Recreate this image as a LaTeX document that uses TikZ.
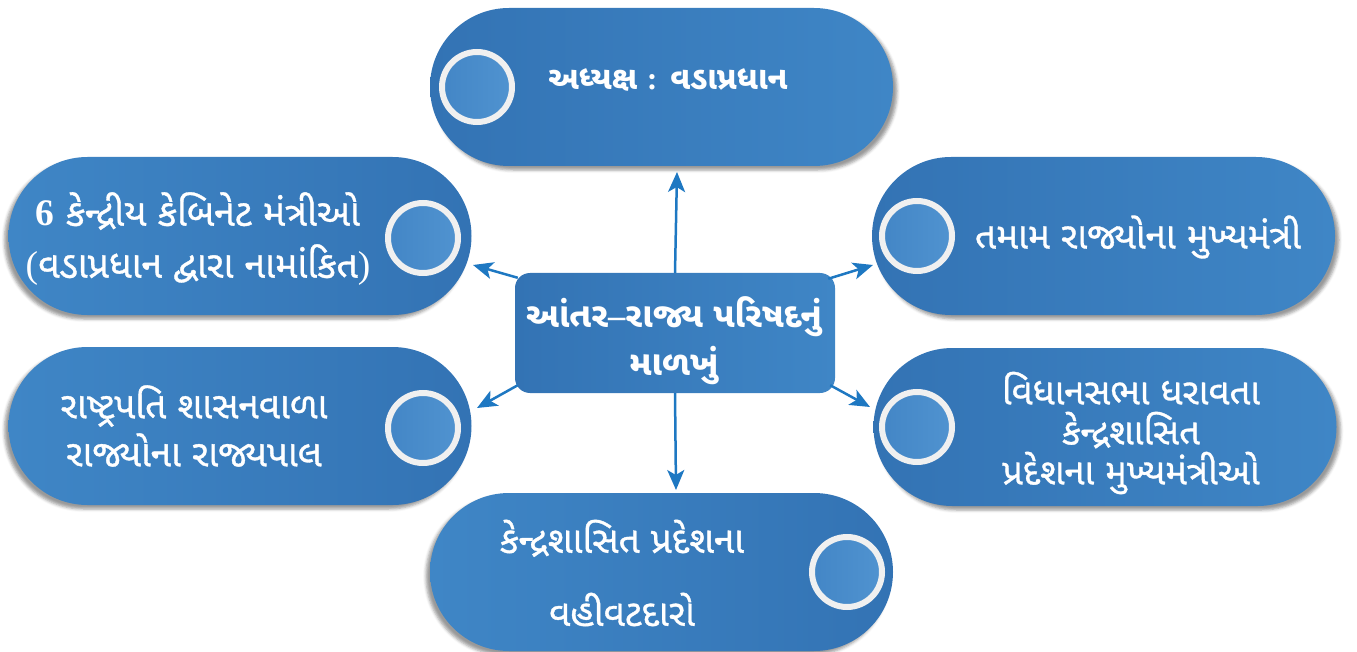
\documentclass[tikz,border=0pt]{standalone}
\usepackage{fontspec}
\newfontfamily\gujfont[Script=Gujarati,FakeBold=0.9]{Noto Sans Gujarati UI}
\newfontfamily\gujbold[Script=Gujarati]{Noto Sans Gujarati UI}
\newfontfamily\latfont{Liberation Serif}
\usetikzlibrary{arrows.meta}
\usetikzlibrary{shapes.misc}
\usetikzlibrary{shadows.blur}
\definecolor{pilldark}{HTML}{3373B4}
\definecolor{pilllight}{HTML}{3F86C6}
\definecolor{dotdark}{HTML}{4386C6}
\definecolor{dotlight}{HTML}{5093D0}
\definecolor{ringgray}{HTML}{F0F0F0}
\definecolor{linkblue}{HTML}{1E78C2}

\begin{document}
\begin{tikzpicture}[x=1pt,y=-1pt,
        pill/.style={rounded rectangle,minimum width=463pt,minimum height=158pt,inner sep=0pt},
        pilldotleft/.style={pill,left color=pilldark,right color=pilllight,blur shadow={shadow xshift=4pt,shadow yshift=-4pt,shadow blur radius=3pt}},
        pilldotright/.style={pill,left color=pilllight,right color=pilldark,blur shadow={shadow xshift=-4pt,shadow yshift=-4pt,shadow blur radius=3pt}},
        dot/.style={circle,minimum size=70pt,inner sep=0pt,draw=ringgray,line width=6pt,left color=dotdark,right color=dotlight},
        lbl/.style={text=white,align=center,inner sep=0pt,font=\gujfont\fontsize{37}{48}\selectfont},
        link/.style={draw=linkblue,line width=2.5pt,-{Stealth[length=20pt,width=17pt,inset=5pt]}}]
        \useasboundingbox (0,0) rectangle (1357,652);
        \node[pilldotleft] (chair) at (661.5,87) {};
        \node[pilldotright] (cabinet) at (240,236) {};
        \node[pilldotleft] (cms) at (1103.5,236) {};
        \node[pilldotright] (governors) at (240,426) {};
        \node[pilldotleft] (utcms) at (1105,427) {};
        \node[pilldotright] (admins) at (661.5,572) {};
        \node[dot] (chairdot) at (477,87) {};
        \node[dot] (cabinetdot) at (423,238) {};
        \node[dot] (cmsdot) at (917,236) {};
        \node[dot] (governorsdot) at (423,428) {};
        \node[dot] (utcmsdot) at (917,427) {};
        \node[dot] (adminsdot) at (847,572) {};
        \node[lbl,font=\gujbold\bfseries\fontsize{32}{48}\selectfont] (chairtext) at (668,80) {અધ્યક્ષ {\latfont\bfseries :} વડાપ્રધાન};
        \node[lbl,font=\gujfont\fontsize{37.5}{52}\selectfont] (cabinettext) at (198,239) {{\latfont\bfseries 6} કેન્દ્રીય કેબિનેટ મંત્રીઓ\\{\latfont (}વડાપ્રધાન દ્વારા નામાંકિત{\latfont )}};
        \node[lbl] (cmstext) at (1138,237) {તમામ રાજ્યોના મુખ્યમંત્રી};
        \node[lbl] (governorstext) at (194,426) {રાષ્ટ્રપતિ શાસનવાળા\\રાજ્યોના રાજ્યપાલ};
        \node[lbl,font=\gujfont\fontsize{36.5}{40}\selectfont] (utcmstext) at (1131,433) {વિધાનસભા ધરાવતા\\કેન્દ્રશાસિત\\પ્રદેશના મુખ્યમંત્રીઓ};
        \node[lbl,font=\gujfont\fontsize{37}{73}\selectfont] (adminstext) at (622,573) {કેન્દ્રશાસિત પ્રદેશના\\વહીવટદારો};
        \node[rectangle,rounded corners=15pt,minimum width=320pt,minimum height=120pt,left color=pilldark,right color=pilllight] (hub) at (675,333) {};
        \node[lbl,font=\gujbold\bfseries\fontsize{34.5}{48}\selectfont] (hubtext) at (674,341) {આંતર{\latfont\bfseries –}રાજ્ય પરિષદનું\\માળખું};
        \coordinate (tipchair) at (677,172);
        \coordinate (tipcabinet) at (473,265);
        \coordinate (tipcms) at (873,265);
        \coordinate (tipgovernors) at (477,408);
        \coordinate (tiputcms) at (870,407);
        \coordinate (tipadmins) at (676,490);
        \draw[link] (hub.north) -- (tipchair);
        \draw[link] ([shift={(3,5)}]hub.north west) -- (tipcabinet);
        \draw[link] ([shift={(-7,6)}]hub.north east) -- (tipcms);
        \draw[link] ([shift={(3,-8)}]hub.south west) -- (tipgovernors);
        \draw[link] ([shift={(-5,-8)}]hub.south east) -- (tiputcms);
        \draw[link] (hub.south) -- (tipadmins);
      \end{tikzpicture}
\end{document}
